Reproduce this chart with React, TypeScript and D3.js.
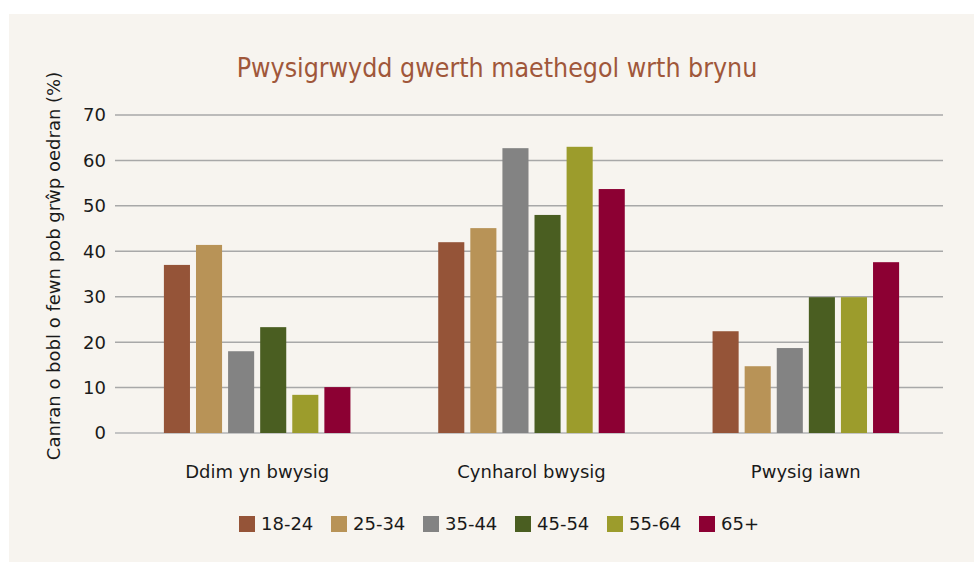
import React from "react";
import * as d3 from "d3";

const categories = ["Ddim yn bwysig", "Cynharol bwysig", "Pwysig iawn"];
const ageGroups = ["18-24", "25-34", "35-44", "45-54", "55-64", "65+"];
const colors = ["#955438", "#b89357", "#838383", "#4a5e21", "#9c9c2c", "#8c0033"];
const values: number[][] = [
  [37.0, 41.4, 18.0, 23.3, 8.4, 10.1],
  [42.0, 45.1, 62.7, 48.0, 63.0, 53.7],
  [22.4, 14.7, 18.7, 29.9, 29.9, 37.6],
];
const yTicks = [0, 10, 20, 30, 40, 50, 60, 70];
const title = "Pwysigrwydd gwerth maethegol wrth brynu";
const yTitle = "Canran o bobl o fewn pob grŵp oedran (%)";

const W = 974;
const H = 562;
const FONT = "'DejaVu Sans', sans-serif";
const TITLE_FONT = "'DejaVu Sans Condensed', 'DejaVu Sans', sans-serif";

export default function App() {
  const x0 = d3.scaleBand<string>().domain(categories).range([120, 943]).paddingInner(0.32).paddingOuter(0.16);
  const x1 = d3.scaleBand<string>().domain(ageGroups).range([0, x0.bandwidth()]).paddingInner(0.1875).paddingOuter(0);
  const y = d3.scaleLinear().domain([0, 70]).range([433, 115]);

  return (
    <svg width={W} height={H} style={{ position: "absolute", left: 0, top: 0 }} fontFamily={FONT}>
      <rect x={0} y={0} width={W} height={H} fill="#ffffff" />
      <rect x={9} y={14} width={W - 9} height={H - 14} fill="#f7f4ef" />
      <text x={497} y={77} textAnchor="middle" fontSize={26.5} fill="#a0573a" fontFamily={TITLE_FONT}>
        {title}
      </text>
      {yTicks.map((t) => (
        <g key={t}>
          <line x1={115} x2={943} y1={y(t)} y2={y(t)} stroke={t === 0 ? "#c4c4c4" : "#a8a8a8"} strokeWidth={t === 0 ? 2 : 1.5} />
          <text x={106} y={y(t)} dy="0.36em" textAnchor="end" fontSize={18} fill="#1a1a1a">
            {t}
          </text>
        </g>
      ))}
      <text transform={`translate(60,266) rotate(-90)`} textAnchor="middle" fontSize={18} fill="#1a1a1a">
        {yTitle}
      </text>
      {categories.map((c, ci) => (
        <g key={c} transform={`translate(${x0(c)},0)`}>
          {ageGroups.map((a, ai) => (
            <rect key={a} x={x1(a)} y={y(values[ci][ai])} width={x1.bandwidth()} height={y(0) - y(values[ci][ai])} fill={colors[ai]} />
          ))}
          <text x={x0.bandwidth() / 2} y={478} textAnchor="middle" fontSize={18} fill="#1a1a1a">
            {c}
          </text>
        </g>
      ))}
      {ageGroups.map((a, i) => (
        <g key={a} transform={`translate(${239 + i * 92},516)`}>
          <rect x={0} y={0} width={16} height={16} fill={colors[i]} />
          <text x={22} y={8} dy="0.36em" fontSize={18} fill="#1a1a1a">
            {a}
          </text>
        </g>
      ))}
    </svg>
  );
}
